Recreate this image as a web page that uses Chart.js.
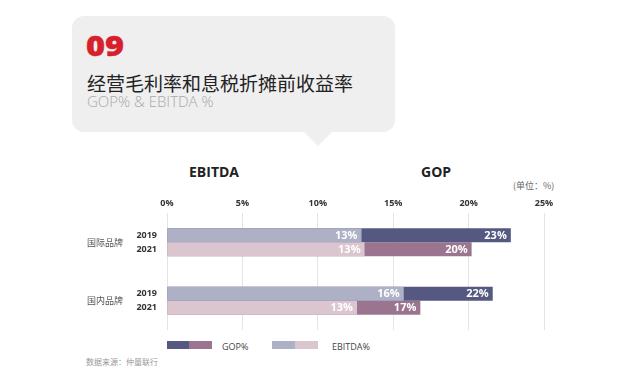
<!DOCTYPE html>
<html>
<head>
<meta charset="utf-8">
<script src="https://cdn.jsdelivr.net/npm/chart.js@4.4.1/dist/chart.umd.min.js"></script>
<style>
  html, body { margin: 0; padding: 0; background: #ffffff; }
  body { width: 633px; height: 374px; position: relative; overflow: hidden;
         font-family: 'Open Sans', 'Noto Sans CJK SC', sans-serif; }
  #c { position: absolute; left: 0; top: 0; }
  .t { position: absolute; white-space: nowrap; line-height: 1; }
  .box { position: absolute; left: 72px; top: 16px; width: 323px; height: 116px;
         background: #efeff0; border-radius: 12px; }
  .ptr { position: absolute; left: 303px; top: 131px; width: 0; height: 0;
         border-left: 15px solid transparent; border-right: 15px solid transparent;
         border-top: 15px solid #efeff0; }
  .sw { position: absolute; height: 8px; }
</style>
</head>
<body>
<div class="box"></div>
<div class="ptr"></div>
<div class="t" style="left:86px;top:30px;font-size:29px;font-weight:800;color:#d7202b;transform:scaleX(1.12);transform-origin:0 0;-webkit-text-stroke:0.4px #d7202b;">09</div>
<div class="t" style="left:87px;top:72.5px;font-size:19px;font-weight:400;color:#222;font-family:'Noto Sans CJK SC',sans-serif;">经营毛利率和息税折摊前收益率</div>
<div class="t" style="left:87px;top:94px;font-size:15px;font-weight:300;color:#a8a8a8;">GOP% &amp; EBITDA %</div>

<div class="t" style="left:189px;top:164.5px;font-size:14px;font-weight:700;color:#222;">EBITDA</div>
<div class="t" style="left:421px;top:164.5px;font-size:14px;font-weight:700;color:#222;">GOP</div>
<div class="t" style="left:513px;top:180.5px;font-size:9px;color:#666;font-family:'Noto Sans CJK SC',sans-serif;">(单位：%)</div>

<div class="sw" style="left:167px;top:341px;width:22px;background:#555881;"></div>
<div class="sw" style="left:189px;top:341px;width:23px;background:#9b7590;"></div>
<div class="t" style="left:222px;top:341.5px;font-size:9px;color:#444;">GOP%</div>
<div class="sw" style="left:272px;top:341px;width:23px;background:#aeb0c6;"></div>
<div class="sw" style="left:295px;top:341px;width:23px;background:#dbc5ce;"></div>
<div class="t" style="left:332px;top:341.5px;font-size:9px;color:#444;">EBITDA%</div>

<div class="t" style="left:86px;top:357.5px;font-size:8px;color:#999;font-family:'Noto Sans CJK SC',sans-serif;">数据来源：仲量联行</div>

<canvas id="c" width="633" height="374"></canvas>
<script>
// ---- data ----
const groups = ['国际品牌', '国内品牌'];
const years = ['2019', '2021'];
const ebitda2019 = [12.9, 15.7];
const ebitda2021 = [13.1, 12.6];
const gop2019 = [22.8, 21.6];
const gop2021 = [20.2, 16.8];
const xTicks = [0, 5, 10, 15, 20, 25];

const FONT = "'Open Sans', 'Noto Sans CJK SC', sans-serif";

const labelPlugin = {
  id: 'barLabels',
  afterDatasetsDraw(chart) {
    const ctx = chart.ctx;
    const area = chart.chartArea;
    ctx.save();
    chart.data.datasets.forEach((ds, di) => {
      const meta = chart.getDatasetMeta(di);
      meta.data.forEach((bar, i) => {
        const v = ds.data[i];
        ctx.font = "bold 11px " + FONT;
        ctx.fillStyle = '#ffffff';
        ctx.textAlign = 'right';
        ctx.textBaseline = 'middle';
        ctx.fillText(Math.round(v) + '%', bar.x - 4, bar.y + 0.5);
        if (ds.yearLabel) {
          ctx.font = "bold 9px " + FONT;
          ctx.fillStyle = '#333333';
          ctx.fillText(ds.yearLabel, area.left - 10, bar.y);
        }
      });
    });
    const yScale = chart.scales.y;
    ctx.font = "9px 'Noto Sans CJK SC', sans-serif";
    ctx.fillStyle = '#555555';
    ctx.textAlign = 'left';
    ctx.textBaseline = 'middle';
    groups.forEach((g, i) => {
      ctx.fillText(g, 87, yScale.getPixelForValue(i));
    });
    ctx.restore();
  }
};

new Chart(document.getElementById('c'), {
  type: 'bar',
  data: {
    labels: groups,
    datasets: [
      { label: 'EBITDA% ' + years[0], data: ebitda2019, stack: 's2019', yearLabel: years[0],
        backgroundColor: '#aeb0c6', borderWidth: 0 },
      { label: 'EBITDA% ' + years[1], data: ebitda2021, stack: 's2021', yearLabel: years[1],
        backgroundColor: '#dbc5ce', borderWidth: 0 },
      { label: 'GOP% ' + years[0], data: gop2019, stack: 's2019',
        backgroundColor: '#555881', borderWidth: 0 },
      { label: 'GOP% ' + years[1], data: gop2021, stack: 's2021',
        backgroundColor: '#9b7590', borderWidth: 0 }
    ]
  },
  options: {
    indexAxis: 'y',
    responsive: false,
    animation: false,
    devicePixelRatio: 1,
    categoryPercentage: 0.479,
    barPercentage: 1,
    layout: { padding: { left: 167, right: 89, top: 191, bottom: 44 } },
    plugins: { legend: { display: false }, tooltip: { enabled: false }, title: { display: false } },
    scales: {
      x: {
        position: 'top',
        stacked: false,
        min: xTicks[0],
        max: xTicks[xTicks.length - 1],
        afterBuildTicks: (s) => { s.ticks = xTicks.map(v => ({ value: v })); },
        afterFit: (s) => { s.height = 22; },
        border: { display: false },
        grid: { color: '#e4e4e4', lineWidth: 1, drawTicks: false },
        ticks: {
          padding: 4,
          color: '#333333',
          font: { family: FONT, size: 9, weight: 'bold' },
          callback: (v) => v + '%'
        }
      },
      y: {
        stacked: true,
        display: false
      }
    }
  },
  plugins: [labelPlugin]
});
</script>
</body>
</html>
